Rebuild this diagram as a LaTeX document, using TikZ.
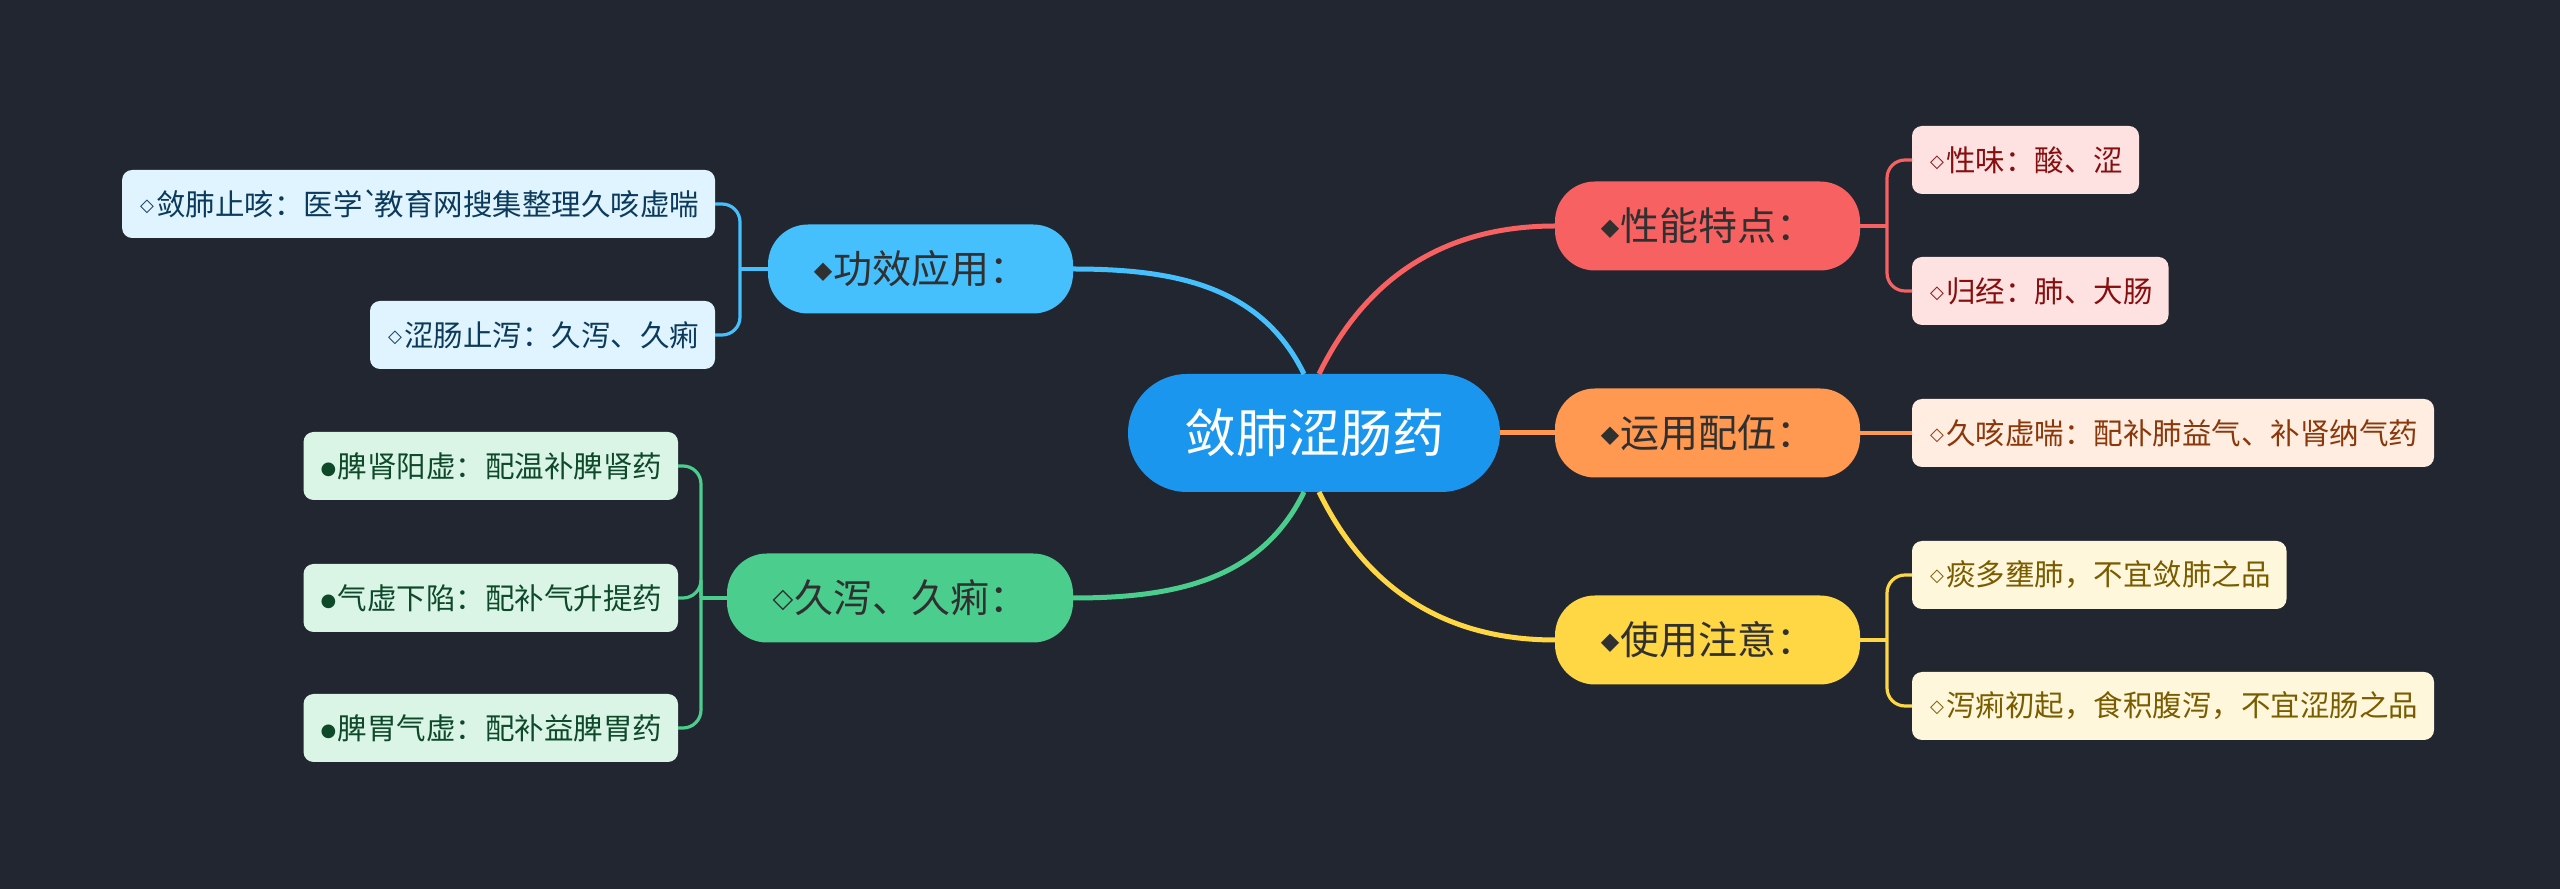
\documentclass[tikz,border=0pt]{standalone}
\usepackage{fontspec}
\setmainfont{Noto Sans CJK SC}
\newfontfamily\symfont{DejaVu Sans}
\usetikzlibrary{positioning}

\definecolor{bgdark}{RGB}{34,38,49}
\definecolor{corefill}{RGB}{27,150,238}
\definecolor{bluetop}{RGB}{69,192,253}
\definecolor{greentop}{RGB}{75,205,142}
\definecolor{redtop}{RGB}{247,97,97}
\definecolor{orangetop}{RGB}{255,152,80}
\definecolor{yellowtop}{RGB}{255,214,68}
\definecolor{blueleaf}{RGB}{223,244,254}
\definecolor{greenleaf}{RGB}{218,244,230}
\definecolor{redleaf}{RGB}{254,226,226}
\definecolor{orangeleaf}{RGB}{255,237,226}
\definecolor{yellowleaf}{RGB}{255,247,219}
\definecolor{bluetext}{RGB}{12,58,92}
\definecolor{greentext}{RGB}{14,74,42}
\definecolor{redtext}{RGB}{136,14,14}
\definecolor{orangetext}{RGB}{138,56,10}
\definecolor{yellowtext}{RGB}{122,92,0}
\definecolor{toptext}{RGB}{48,48,48}

% bullet marks in front of the texts
\newcommand\mmfull{\makebox[20pt][c]{\raisebox{5pt}{\fontsize{24}{24}\symfont ◆}}}
\newcommand\mmopenbig{\makebox[22pt][c]{\raisebox{5pt}{\fontsize{27}{27}\symfont ◇}}}
\newcommand\mmopen{\makebox[18pt][c]{\raisebox{4pt}{\fontsize{18}{18}\symfont ◇}}}
\newcommand\mmdot{\makebox[18pt][c]{\raisebox{3pt}{\fontsize{18}{18}\symfont ●}}}

\begin{document}
\begin{tikzpicture}[x=1pt, y=1pt,
    core/.style={fill=corefill, text=white, rounded corners=59pt,
                 minimum width=372pt, minimum height=118pt, inner sep=0pt,
                 outer sep=0pt, font=\fontsize{52}{60}\selectfont},
    topic/.style={fill=#1, text=toptext, rounded corners=40pt,
                  minimum height=89pt, inner xsep=45pt, inner ysep=0pt,
                  outer sep=0pt, font=\fontsize{39}{46}\selectfont},
    leaf/.style 2 args={fill=#1, text=#2, rounded corners=10pt,
                  minimum height=68pt, inner xsep=16pt, inner ysep=0pt,
                  outer sep=0pt, font=\fontsize{29.5}{35}\selectfont},
    trunk/.style={draw=#1, line width=5pt},
    twig/.style={draw=#1, line width=3.2pt, rounded corners=18pt}]

  \fill[bgdark] (0,0) rectangle (2560,889);
  \useasboundingbox (0,0) rectangle (2560,889);

  % ---- the centre and its five topics
  \node[core] (hub) at (1314,456) {敛肺涩肠药};
  \node[topic=bluetop, anchor=east]    (gongxiao) at (1073,620) {\mmfull 功效应用：};
  \node[topic=greentop, anchor=east]   (jiuxie)   at (1073,291) {\mmopenbig 久泻、久痢：};
  \node[topic=redtop, anchor=west]     (xingneng) at (1555,663) {\mmfull 性能特点：};
  \node[topic=orangetop, anchor=west]  (yunyong)  at (1555,456) {\mmfull 运用配伍：};
  \node[topic=yellowtop, anchor=west]  (shiyong)  at (1555,249) {\mmfull 使用注意：};

  % ---- leaves on the left
  \node[leaf={blueleaf}{bluetext}, anchor=east] (lianfei) at (715,685)
    {\mmopen 敛肺止咳：医学\textasciigrave\kern-6pt 教育网搜集整理久咳虚喘};
  \node[leaf={blueleaf}{bluetext}, anchor=east] (sechang) at (715,554)
    {\mmopen 涩肠止泻：久泻、久痢};
  \node[leaf={greenleaf}{greentext}, anchor=east] (pishen) at (678,423)
    {\mmdot 脾肾阳虚：配温补脾肾药};
  \node[leaf={greenleaf}{greentext}, anchor=east] (qixu) at (678,291)
    {\mmdot 气虚下陷：配补气升提药};
  \node[leaf={greenleaf}{greentext}, anchor=east] (piwei) at (678,161)
    {\mmdot 脾胃气虚：配补益脾胃药};

  % ---- leaves on the right
  \node[leaf={redleaf}{redtext}, anchor=west] (xingwei) at (1912,729)
    {\mmopen 性味：酸、涩};
  \node[leaf={redleaf}{redtext}, anchor=west] (guijing) at (1912,598)
    {\mmopen 归经：肺、大肠};
  \node[leaf={orangeleaf}{orangetext}, anchor=west] (jiuke) at (1912,456)
    {\mmopen 久咳虚喘：配补肺益气、补肾纳气药};
  \node[leaf={yellowleaf}{yellowtext}, anchor=west] (tanduo) at (1912,314)
    {\mmopen 痰多壅肺，不宜敛肺之品};
  \node[leaf={yellowleaf}{yellowtext}, anchor=west] (xieli) at (1912,183)
    {\mmopen 泻痢初起，食积腹泻，不宜涩肠之品};

  % ---- where the brackets split
  \coordinate[left=28pt of gongxiao] (gongxiaoj);
  \coordinate[left=26pt of jiuxie] (jiuxiej);
  \coordinate[right=27pt of xingneng] (xingnengj);
  \coordinate[right=27pt of shiyong] (shiyongj);

  % ---- centre to topics
  \draw[trunk=bluetop]   ([xshift=-10pt]hub.north) to[out=116, in=0] (gongxiao.east);
  \draw[trunk=redtop]    ([xshift=5pt]hub.north) to[out=64, in=180] (xingneng.west);
  \draw[trunk=greentop]  ([xshift=-10pt]hub.south) to[out=-116, in=0] (jiuxie.east);
  \draw[trunk=yellowtop] ([xshift=5pt]hub.south) to[out=-64, in=180] (shiyong.west);
  \draw[trunk=orangetop] (hub.east) -- (yunyong.west);

  % ---- topics to leaves
  \draw[twig=bluetop] (gongxiao.west) -- (gongxiaoj);
  \draw[twig=bluetop] (gongxiaoj) |- (lianfei.east);
  \draw[twig=bluetop] (gongxiaoj) |- (sechang.east);
  \draw[twig=greentop] (jiuxie.west) -- (jiuxiej);
  \draw[twig=greentop] (jiuxiej) |- (pishen.east);
  \draw[twig=greentop] (jiuxiej) |- (qixu.east);
  \draw[twig=greentop] (jiuxiej) |- (piwei.east);
  \draw[twig=redtop] (xingneng.east) -- (xingnengj);
  \draw[twig=redtop] (xingnengj) |- (xingwei.west);
  \draw[twig=redtop] (xingnengj) |- (guijing.west);
  \draw[twig=orangetop] (yunyong.east) -- (jiuke.west);
  \draw[twig=yellowtop] (shiyong.east) -- (shiyongj);
  \draw[twig=yellowtop] (shiyongj) |- (tanduo.west);
  \draw[twig=yellowtop] (shiyongj) |- (xieli.west);
\end{tikzpicture}
\end{document}
